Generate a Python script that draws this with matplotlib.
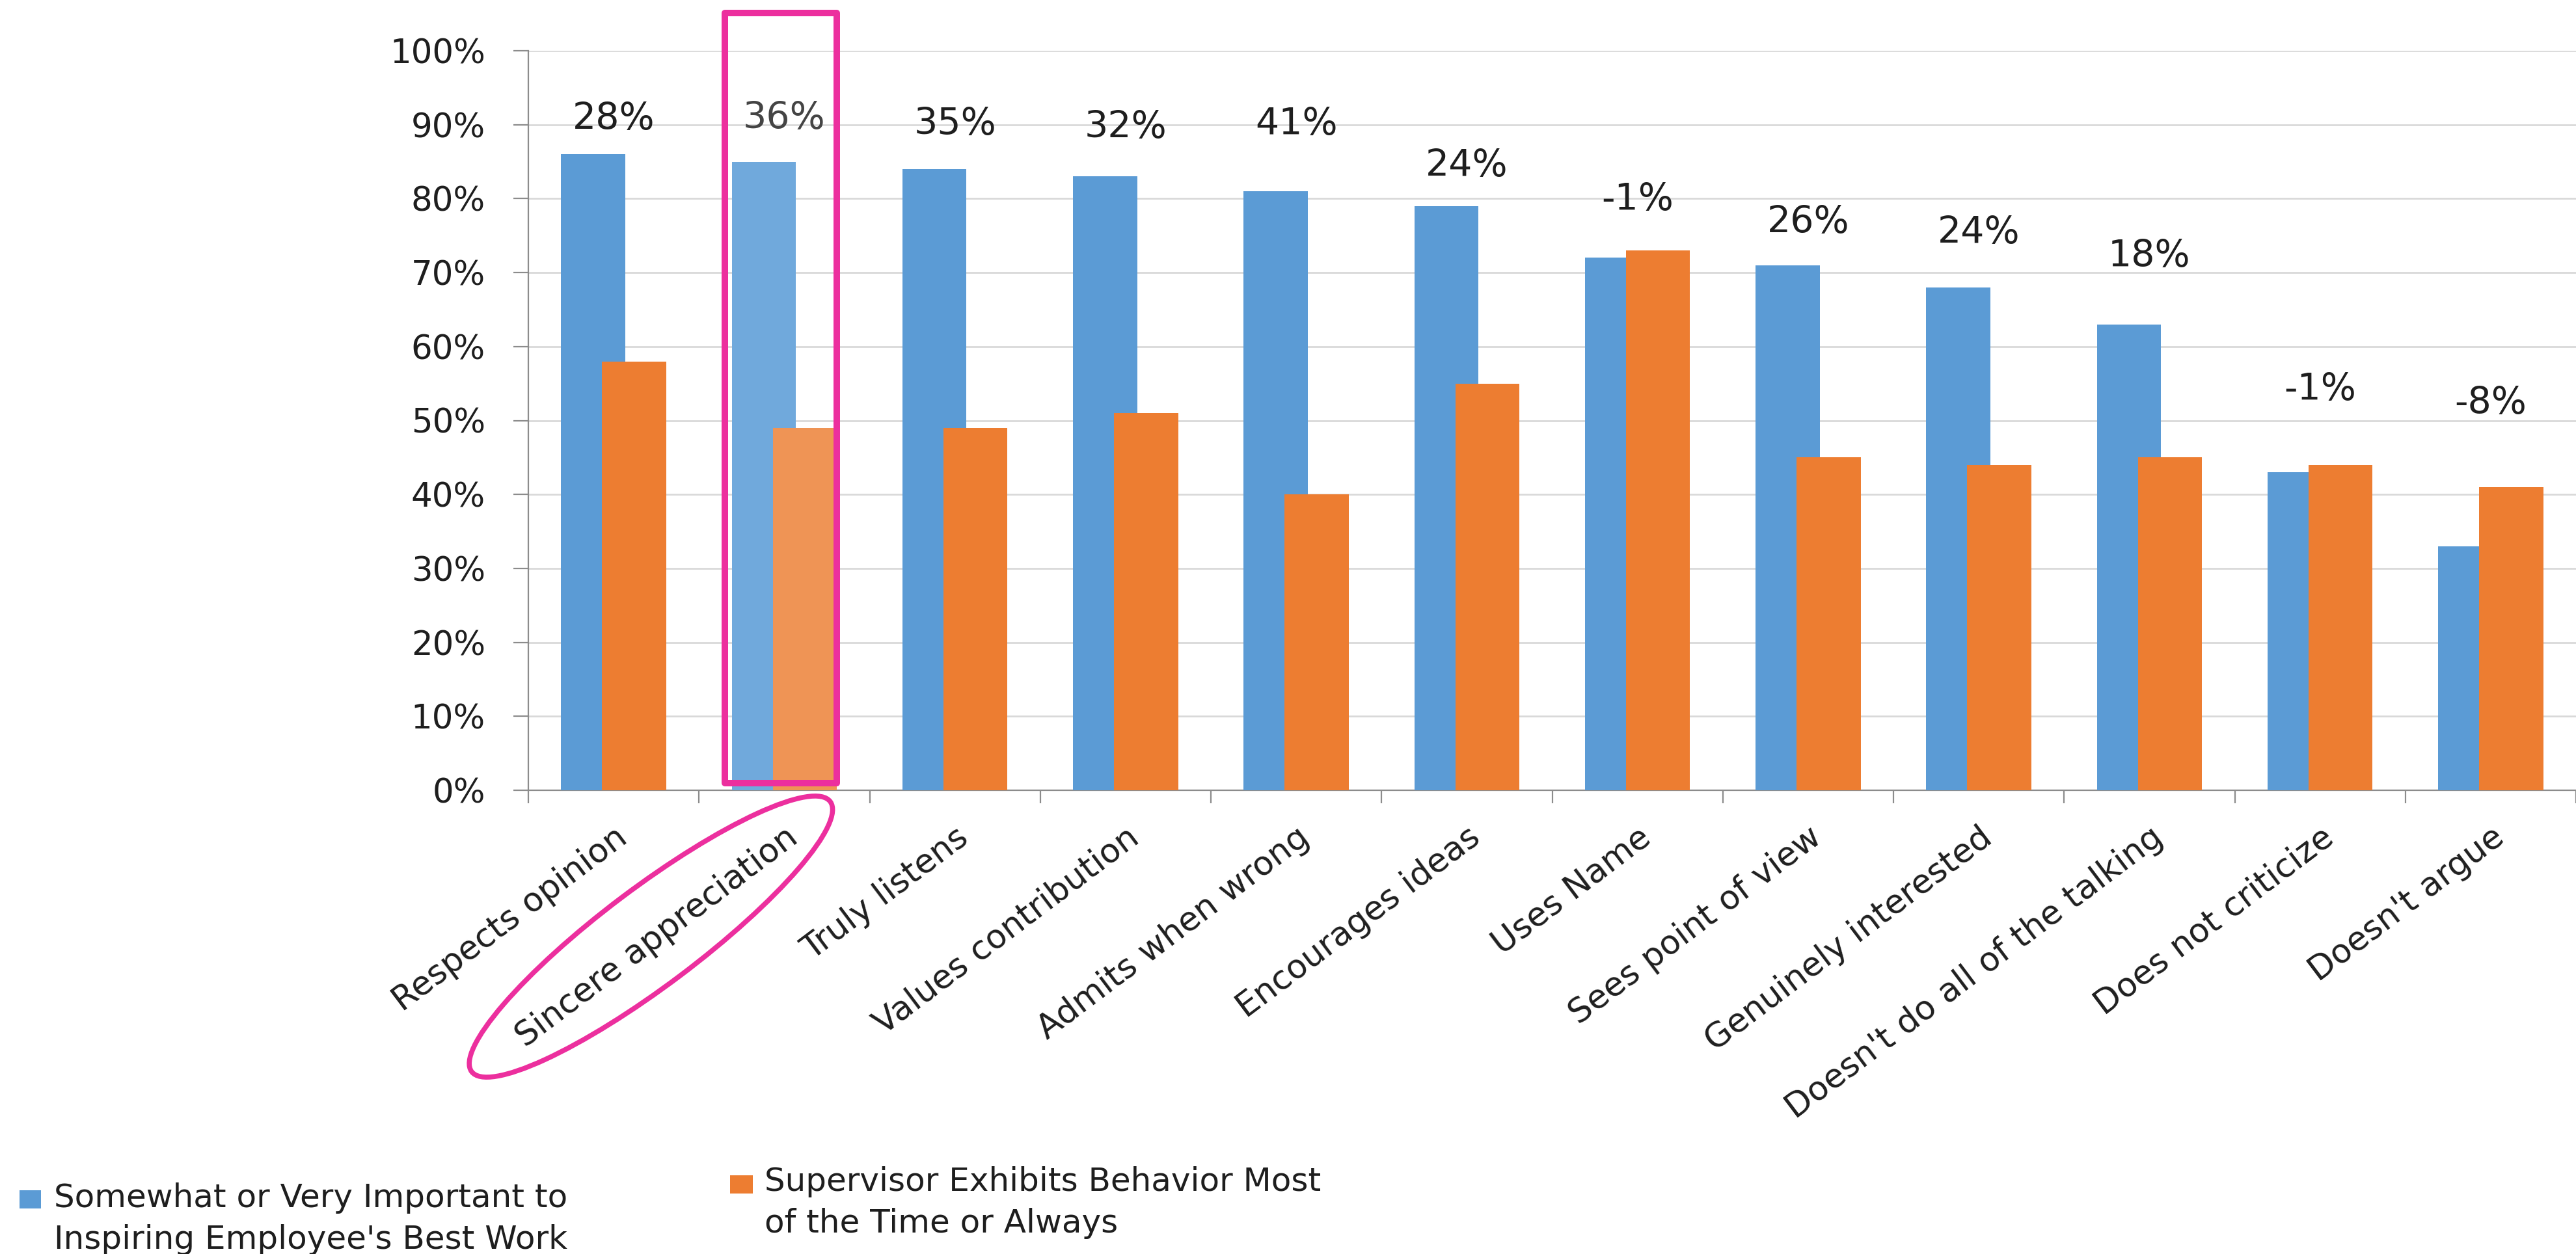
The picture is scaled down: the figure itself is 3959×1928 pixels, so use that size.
import matplotlib
matplotlib.use("Agg")
import matplotlib.pyplot as plt
from matplotlib.patches import Rectangle, Ellipse
from matplotlib.transforms import IdentityTransform
import numpy as np

plt.rcParams['font.family'] = ['DejaVu Sans']

# Survey results (percent of respondents)
behaviors = [
    "Respects opinion", "Sincere appreciation", "Truly listens",
    "Values contribution", "Admits when wrong", "Encourages ideas",
    "Uses Name", "Sees point of view", "Genuinely interested",
    "Doesn't do all of the talking", "Does not criticize", "Doesn't argue",
]
important = [86, 85, 84, 83, 81, 79, 72, 71, 68, 63, 43, 33]
exhibited = [58, 49, 49, 51, 40, 55, 73, 45, 44, 45, 44, 41]

legend_important = "Somewhat or Very Important to\nInspiring Employee's Best Work"
legend_exhibited = "Supervisor Exhibits Behavior Most\nof the Time or Always"

# Heights (in %) where the gap callouts sit
gap_label_y = [90.7, 90.8, 90.0, 89.6, 90.0, 84.4, 79.8, 76.7, 75.3, 72.2, 54.1, 52.3]

highlight = 1  # "Sincere appreciation"

BLUE, ORANGE = "#5B9BD5", "#ED7D31"
BLUE_HI, ORANGE_HI = "#70A9DC", "#EF9455"
PINK = "#EC2F9E"
TXT = "#1E1E1E"
AXIS = "#8C8C8C"

W, H, DPI = 3959, 1928, 100
fig = plt.figure(figsize=(W / DPI, H / DPI), dpi=DPI)

ax_left, ax_bottom = 812 / W, 1 - 1215 / H
ax_top = 1 - 78 / H
ax = fig.add_axes([ax_left, ax_bottom, 1 - ax_left, ax_top - ax_bottom])

n = len(behaviors)
x = np.arange(n)
bar_w = 0.375
off_blue, off_orange = -0.12, 0.12

blue_colors = [BLUE_HI if i == highlight else BLUE for i in range(n)]
orange_colors = [ORANGE_HI if i == highlight else ORANGE for i in range(n)]
ax.bar(x + off_blue, important, bar_w, color=blue_colors, zorder=3, linewidth=0)
ax.bar(x + off_orange, exhibited, bar_w, color=orange_colors, zorder=4, linewidth=0)

ax.set_ylim(0, 100)
ax.set_xlim(-0.5, (W - 812) / 265 - 0.5)

# Gap between importance and how often the supervisor shows it
for i in range(n):
    gap = important[i] - exhibited[i]
    ax.text(x[i], gap_label_y[i], f"{gap}%", ha="center", va="center",
            fontsize=41, color="#444444" if i == highlight else TXT, zorder=6)

# y axis
ax.set_yticks(np.arange(0, 101, 10))
ax.set_yticklabels([f"{v}%" for v in range(0, 101, 10)])
ax.tick_params(axis="y", which="major", length=16.5, width=1.6, color=AXIS,
               labelsize=37, labelcolor=TXT, pad=31, direction="out")
ax.yaxis.grid(True, color="#D9D9D9", linewidth=2.0, zorder=0)
ax.set_axisbelow(True)

# x axis: ticks between categories, labels at category centres
ax.set_xticks(np.arange(-0.5, n - 0.4, 1.0))
ax.set_xticklabels([])
ax.tick_params(axis="x", which="major", length=14.5, width=1.6, color=AXIS, direction="out")
ax.set_xticks(x, minor=True)
ax.set_xticklabels(behaviors, minor=True, rotation=37, ha="right", va="top",
                   rotation_mode="anchor")
ax.tick_params(axis="x", which="minor", length=0, pad=34, labelsize=37, labelcolor=TXT)

for side in ("top", "right"):
    ax.spines[side].set_visible(False)
for side in ("left", "bottom"):
    ax.spines[side].set_color(AXIS)
    ax.spines[side].set_linewidth(1.6)

# Highlight frame around the selected behavior
frame_left = highlight + off_blue - bar_w / 2 - 0.04
frame_right = highlight + off_orange + bar_w / 2
ax.add_patch(Rectangle((frame_left, 1.0), frame_right - frame_left, 104.1,
                       fill=False, edgecolor=PINK, linewidth=7.2,
                       joinstyle="round", clip_on=False, zorder=7))

# Ring around the matching category label
cx, cy = ax.transData.transform((highlight, 0))
ax.add_artist(Ellipse((cx - 205, cy - 225), width=690, height=150, angle=37,
                      fill=False, edgecolor=PINK, linewidth=5.5,
                      transform=IdentityTransform(), clip_on=False, zorder=8))

# Legend entries
def legend_item(px, py_top, sw, sh, color, tx, text_top, label):
    fig.patches.append(Rectangle((px / W, 1 - (py_top + sh) / H), sw / W, sh / H,
                                 transform=fig.transFigure, color=color, linewidth=0))
    fig.text(tx / W, 1 - text_top / H, label, ha="left", va="top",
             fontsize=36, color=TXT, linespacing=1.42)

legend_item(30, 1830, 33, 28, BLUE, 83, 1818, legend_important)
legend_item(1122, 1807, 35, 28, ORANGE, 1175, 1793, legend_exhibited)

fig.savefig("out.png", dpi=DPI, facecolor="white")
